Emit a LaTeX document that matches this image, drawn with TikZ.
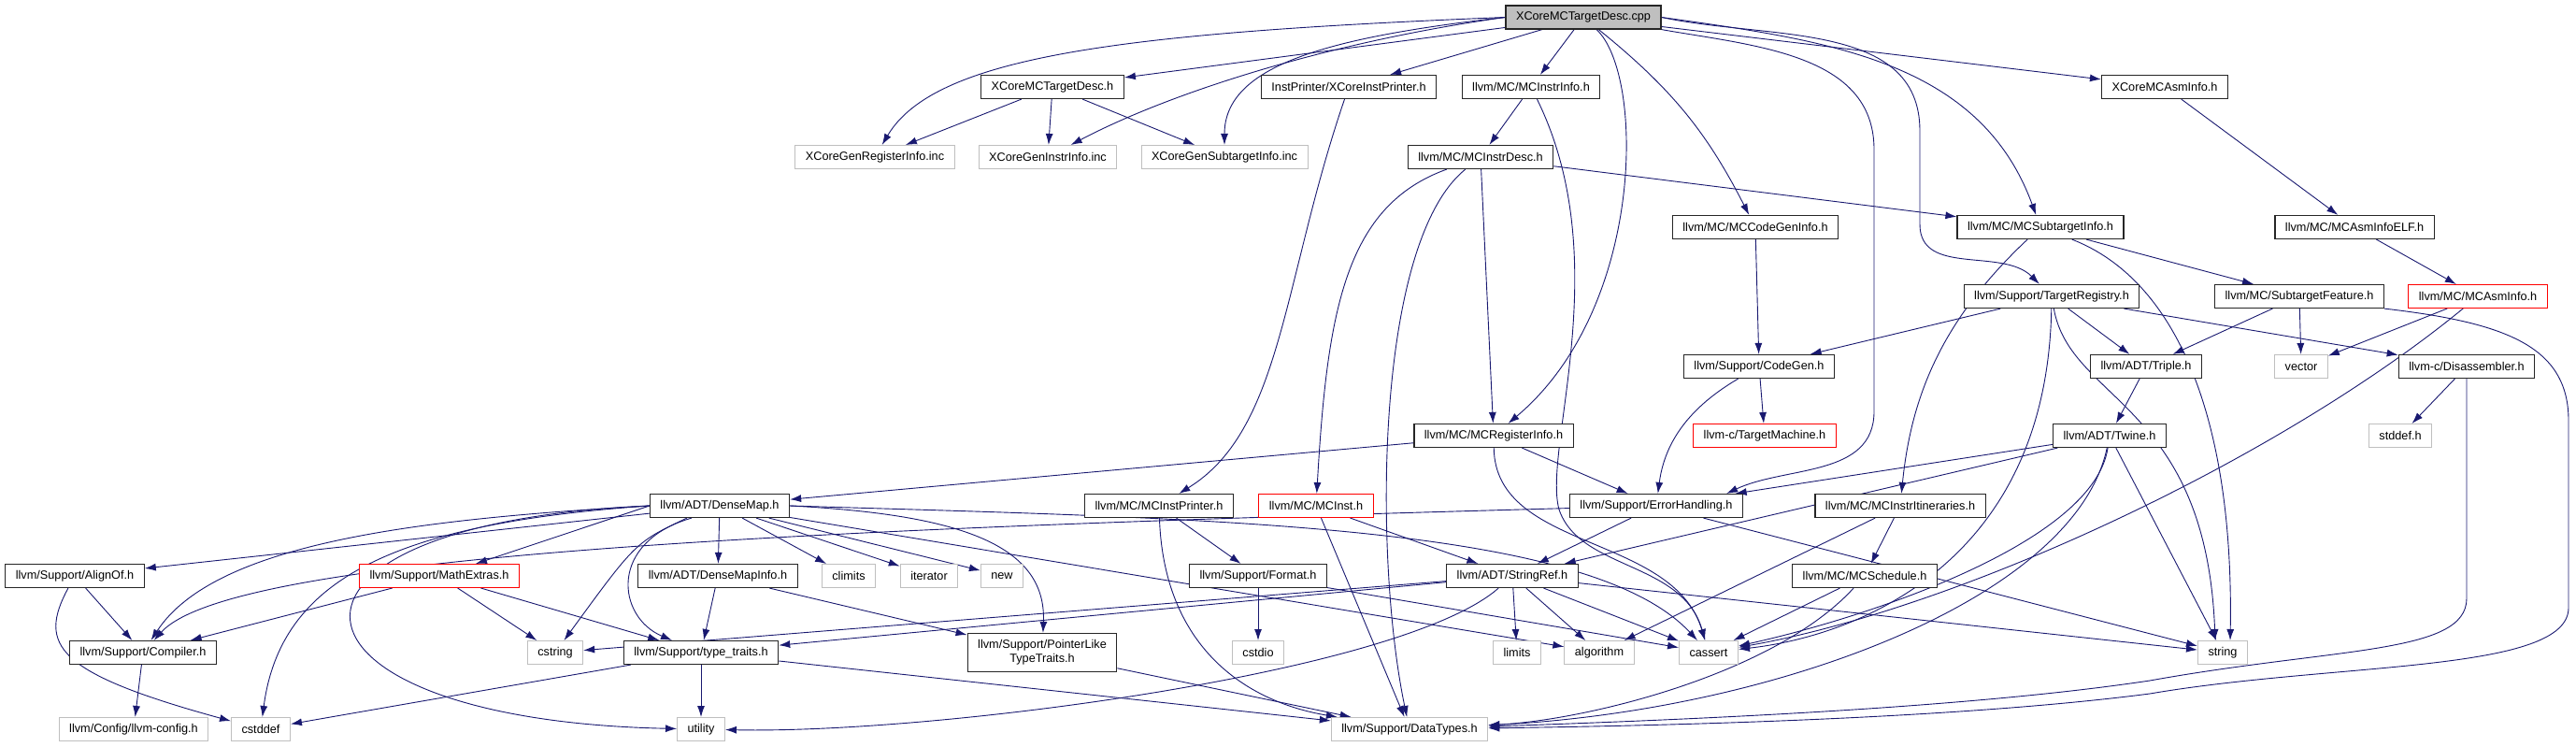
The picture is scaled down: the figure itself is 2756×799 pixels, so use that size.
\documentclass[tikz,border=0pt]{standalone}
\usepackage{fontspec}
\setmainfont{Liberation Sans}
\usetikzlibrary{arrows.meta,backgrounds}

\definecolor{edgeblue}{RGB}{25,25,112}
\definecolor{extgray}{RGB}{191,191,191}

\begin{document}
\begin{tikzpicture}[
  x=1pt,y=1pt,
  >={Latex[length=12pt,width=8pt]},
  font=\fontsize{12.7}{15}\selectfont,
  filebox/.style={draw,fill=white,minimum height=25pt,inner xsep=11pt,inner ysep=0pt},
  hdr/.style={filebox,draw=black!85,line width=1.2pt},
  ext/.style={filebox,draw=extgray,line width=1pt},
  undoc/.style={filebox,draw=red,line width=1pt},
  root/.style={filebox,draw=black!85,fill=extgray,line width=1.2pt},
  dep/.style={->,draw=edgeblue,line width=0.9pt},
]
\useasboundingbox (0,0) rectangle (2756,-799);

% ---------- row 0-2 ----------
\node[root] (cpp) at (1694,-18.5) {XCoreMCTargetDesc.cpp};

\node[hdr] (tdh)  at (1126,-93) {XCoreMCTargetDesc.h};
\node[hdr] (iph)  at (1443,-93) {InstPrinter/XCoreInstPrinter.h};
\node[hdr] (mcii) at (1638,-93) {llvm/MC/MCInstrInfo.h};
\node[hdr] (asmi) at (2316,-93) {XCoreMCAsmInfo.h};

\node[ext] (reginc)  at (936,-168)  {XCoreGenRegisterInfo.inc};
\node[ext] (instinc) at (1121,-168) {XCoreGenInstrInfo.inc};
\node[ext] (subinc)  at (1310,-168) {XCoreGenSubtargetInfo.inc};
\node[hdr] (mcid)    at (1584,-168) {llvm/MC/MCInstrDesc.h};

% ---------- row 3-6 ----------
\node[hdr] (cgi)  at (1878,-243) {llvm/MC/MCCodeGenInfo.h};
\node[hdr] (msti) at (2183,-243) {llvm/MC/MCSubtargetInfo.h};
\node[hdr] (elf)  at (2519,-243) {llvm/MC/MCAsmInfoELF.h};

\node[hdr]   (treg)  at (2195,-317) {llvm/Support/TargetRegistry.h};
\node[hdr]   (sfeat) at (2460,-317) {llvm/MC/SubtargetFeature.h};
\node[undoc] (mcai)  at (2651,-317) {llvm/MC/MCAsmInfo.h};

\node[hdr] (cgen)   at (1882,-392) {llvm/Support/CodeGen.h};
\node[hdr] (triple) at (2296,-392) {llvm/ADT/Triple.h};
\node[ext] (vector) at (2462,-392) {vector};
\node[hdr] (disasm) at (2639,-392) {llvm-c/Disassembler.h};

\node[hdr]   (mcri)    at (1598,-466) {llvm/MC/MCRegisterInfo.h};
\node[undoc] (tmach)   at (1888,-466) {llvm-c/TargetMachine.h};
\node[hdr]   (twine)   at (2257,-466) {llvm/ADT/Twine.h};
\node[ext]   (stddefh) at (2568,-466) {stddef.h};

% ---------- row 7-10 ----------
\node[hdr]   (dmap)   at (770,-541)  {llvm/ADT/DenseMap.h};
\node[hdr]   (mcip)   at (1240,-541) {llvm/MC/MCInstPrinter.h};
\node[undoc] (mcinst) at (1408,-541) {llvm/MC/MCInst.h};
\node[hdr]   (errh)   at (1772,-541) {llvm/Support/ErrorHandling.h};
\node[hdr]   (itin)   at (2033,-541) {llvm/MC/MCInstrItineraries.h};

\node[hdr]   (alignof)  at (80,-616)   {llvm/Support/AlignOf.h};
\node[undoc] (mathx)    at (470,-616)  {llvm/Support/MathExtras.h};
\node[hdr]   (dmi)      at (768,-616)  {llvm/ADT/DenseMapInfo.h};
\node[ext]   (climits)  at (908,-616)  {climits};
\node[ext]   (iterator) at (994,-616)  {iterator};
\node[ext]   (newh)     at (1072,-616) {new};
\node[hdr]   (format)   at (1346,-616) {llvm/Support/Format.h};
\node[hdr]   (sref)     at (1618,-616) {llvm/ADT/StringRef.h};
\node[hdr]   (sched)    at (1995,-616) {llvm/MC/MCSchedule.h};

\node[hdr] (compiler)  at (153,-698)  {llvm/Support/Compiler.h};
\node[ext] (cstring)   at (594,-698)  {cstring};
\node[hdr] (ttraits)   at (750,-698)  {llvm/Support/type\_traits.h};
\node[hdr,align=center,minimum height=41pt] (plt) at (1115,-698) {llvm/Support/PointerLike\\TypeTraits.h};
\node[ext] (cstdio)    at (1346,-698) {cstdio};
\node[ext] (limits)    at (1623,-698) {limits};
\node[ext] (algorithm) at (1711,-698) {algorithm};
\node[ext] (cassert)   at (1828,-698) {cassert};
\node[ext] (string)    at (2378,-698) {string};

\node[ext] (config)  at (143,-780)  {llvm/Config/llvm-config.h};
\node[ext] (cstddef) at (279,-780)  {cstddef};
\node[ext] (utility) at (750,-780)  {utility};
\node[ext] (dtypes)  at (1508,-780) {llvm/Support/DataTypes.h};

% ---------- includes ----------
\begin{scope}[on background layer]
\draw[dep] (cpp) -- (tdh);
\draw[dep] (cpp.west) .. controls (1200,-35) and (1000,-60) .. (reginc);
\draw[dep] (cpp.west) .. controls (1420,-45) and (1250,-100) .. (instinc);
\draw[dep] (cpp.west) .. controls (1420,-40) and (1310,-70) .. (subinc);
\draw[dep] (cpp) -- (iph);
\draw[dep] (cpp) -- (mcii);
\draw[dep] (cpp) .. controls (1760,-80) and (1760,-330) .. (mcri);
\draw[dep] (cpp) to[bend left=12] (cgi);
\draw[dep] (cpp.south east) to[out=-10,in=90] (2005,-160) -- (2005,-440)
  to[out=-90,in=25] ([xshift=-18pt]errh.north east);
\draw[dep] (cpp.east) to[out=-8,in=110] (msti);
\draw[dep] (cpp.east) to[out=-12,in=90] (2054,-140) -- (2054,-240) to[out=-90,in=135] (treg);
\draw[dep] (cpp) -- (asmi);

\draw[dep] (tdh) -- (reginc);
\draw[dep] (tdh) -- (instinc);
\draw[dep] (tdh) -- (subinc);
\draw[dep] (iph) .. controls (1372,-300) and (1372,-460) .. (mcip);
\draw[dep] (mcii) -- (mcid);
\draw[dep] (mcii) .. controls (1730,-280) and (1650,-480) .. (1668,-545) .. controls (1690,-610) and (1800,-600) .. (cassert);
\draw[dep] (asmi) -- (elf);

\draw[dep] (mcid) -- (msti);
\draw[dep] (mcid) .. controls (1440,-220) and (1420,-330) .. (mcinst);
\draw[dep] (mcid) .. controls (1470,-260) and (1470,-600) .. (dtypes);
\draw[dep] (mcid) -- (mcri);

\draw[dep] (cgi) -- (cgen);
\draw[dep] (msti) -- (sfeat);
\draw[dep] (msti) .. controls (2330,-300) and (2390,-450) .. ([xshift=8pt]string.north);
\draw[dep] (msti) .. controls (2080,-340) and (2045,-420) .. (itin);
\draw[dep] (elf) -- (mcai);

\draw[dep] (treg) -- (triple);
\draw[dep] (treg) -- (cgen);
\draw[dep] (treg) -- (disasm);
\draw[dep] (treg) .. controls (2215,-430) and (2360,-430) .. ([xshift=-8pt]string.north);
\draw[dep] (treg) .. controls (2190,-600) and (1990,-680) .. (cassert);
\draw[dep] (sfeat) -- (triple);
\draw[dep] (sfeat) -- (vector);
\draw[dep] (sfeat.south east) .. controls (2680,-345) and (2748,-370) .. (2748,-450) -- (2748,-650)
  .. controls (2748,-720) and (2500,-708) .. (2300,-742) .. controls (2100,-768) and (1800,-776) .. (dtypes);
\draw[dep] (mcai) -- (vector);
\draw[dep] (mcai) .. controls (2440,-490) and (2100,-650) .. (cassert);

\draw[dep] (cgen) -- (tmach);
\draw[dep] (cgen) .. controls (1800,-440) and (1780,-480) .. (errh);
\draw[dep] (triple) -- (twine);
\draw[dep] (disasm) -- (stddefh);
\draw[dep] (disasm) -- (2639,-640) .. controls (2639,-700) and (2500,-692) .. (2300,-728)
  .. controls (2100,-758) and (1800,-770) .. (dtypes);

\draw[dep] (mcri) -- (dmap);
\draw[dep] (mcri) -- (errh);
\draw[dep] (mcri) .. controls (1600,-590) and (1790,-570) .. (cassert);
\draw[dep] (twine) -- (errh);
\draw[dep] (twine) -- (sref);
\draw[dep] (twine) -- (string);
\draw[dep] (twine) .. controls (2240,-580) and (2000,-660) .. (cassert);
\draw[dep] (twine) .. controls (2220,-640) and (1900,-760) .. (dtypes);

\draw[dep] (dmap) -- (alignof);
\draw[dep] (dmap.west) .. controls (450,-555) and (230,-580) .. (compiler);
\draw[dep] (dmap.west) .. controls (420,-560) and (300,-620) .. (cstddef);
\draw[dep] (dmap.west) .. controls (250,-560) and (280,-770) .. (utility);
\draw[dep] (dmap.west) -- (mathx);
\draw[dep] ([xshift=40pt]dmap.south west) .. controls (680,-580) .. (cstring);
\draw[dep] ([xshift=45pt]dmap.south west) .. controls (650,-580) and (660,-660) .. (ttraits);
\draw[dep] (dmap) -- (dmi);
\draw[dep] (dmap) -- (climits);
\draw[dep] (dmap) -- (iterator);
\draw[dep] (dmap) -- (newh);
\draw[dep] (dmap.east) .. controls (1020,-550) and (1120,-580) .. (plt);
\draw[dep] (dmap) -- (algorithm);
\draw[dep] (dmap.east) .. controls (1300,-555) and (1700,-560) .. (cassert);

\draw[dep] (mcip) -- (format);
\draw[dep] (mcip) .. controls (1245,-690) and (1330,-750) .. (dtypes);
\draw[dep] (mcinst) -- (sref);
\draw[dep] (mcinst) -- (dtypes);
\draw[dep] (errh) -- (sref);
\draw[dep] (errh) .. controls (900,-565) and (250,-590) .. (compiler);
\draw[dep] (errh) -- (string);
\draw[dep] (itin) -- (algorithm);
\draw[dep] (itin) -- (sched);

\draw[dep] (alignof) -- (compiler);
\draw[dep] (alignof) .. controls (40,-690) and (60,-720) .. (cstddef);
\draw[dep] (mathx) -- (compiler);
\draw[dep] (mathx) -- (cstring);
\draw[dep] (mathx) -- (ttraits);
\draw[dep] (dmi) -- (ttraits);
\draw[dep] (dmi) -- (plt);
\draw[dep] (format) -- (cstdio);
\draw[dep] (format) -- (cassert);
\draw[dep] (sref) -- (limits);
\draw[dep] (sref) -- (algorithm);
\draw[dep] (sref) -- (cassert);
\draw[dep] (sref) -- (string);
\draw[dep] (sref) -- (ttraits);
\draw[dep] (sref) -- (cstring);
\draw[dep] (sref) .. controls (1500,-720) and (1000,-785) .. (utility);
\draw[dep] (sched) -- (cassert);
\draw[dep] (sched) .. controls (1900,-720) and (1700,-770) .. (dtypes);

\draw[dep] (compiler) -- (config);
\draw[dep] (ttraits) -- (utility);
\draw[dep] (ttraits) -- (cstddef);
\draw[dep] (ttraits) -- (dtypes);
\draw[dep] (plt) -- (dtypes);
\end{scope}

\end{tikzpicture}
\end{document}
